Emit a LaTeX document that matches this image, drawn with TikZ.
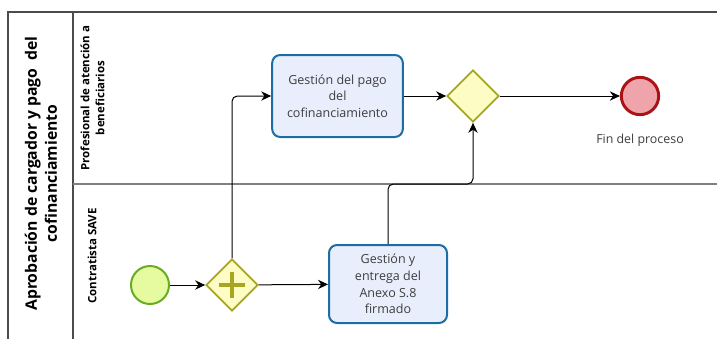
\documentclass[tikz,border=0pt]{standalone}
\usepackage{fontspec}
\setmainfont{Open Sans}
\usetikzlibrary{shapes.geometric,arrows.meta}

\definecolor{startfill}{RGB}{230,251,160}
\definecolor{startline}{RGB}{104,172,36}
\definecolor{gatefill}{RGB}{252,252,196}
\definecolor{gateline}{RGB}{166,166,34}
\definecolor{taskfill}{RGB}{232,238,252}
\definecolor{taskline}{RGB}{28,110,162}
\definecolor{endfill}{RGB}{238,164,170}
\definecolor{endline}{RGB}{170,18,22}
\definecolor{txt}{RGB}{62,62,62}

\begin{document}
\begin{tikzpicture}[x=0.75pt,y=-0.75pt,->,>={Stealth[length=7.5pt,width=7pt]},line width=0.75pt,
  pool line/.style={-,draw=black!70,line width=1.1pt},
  lane line/.style={-,draw=black!50,line width=1.1pt},
  task node/.style={rectangle,rounded corners=6pt,draw=taskline,fill=taskfill,line width=1.5pt,
    align=center,text=txt,font=\fontsize{9.4}{12.5}\selectfont,inner sep=0pt},
  gate node/.style={diamond,aspect=1,draw=gateline,fill=gatefill,line width=1.3pt,
    minimum width=39pt,minimum height=39pt,inner sep=0pt},
  start node/.style={circle,draw=startline,fill=startfill,line width=1.5pt,minimum size=28.5pt,inner sep=0pt},
  end node/.style={circle,draw=endline,fill=endfill,line width=2.2pt,minimum size=28pt,inner sep=0pt}]

  \useasboundingbox (0,0) rectangle (717,339);

  % pool and lanes
  \draw[pool line] (717,12) -- (8,12) -- (8,339);
  \draw[pool line] (73,12) -- (73,339);
  \draw[lane line] (73,184) -- (717,184);
  \coordinate (split) at (73,184);

  \node[rotate=90,align=center,font=\fontsize{11.8}{15}\selectfont\bfseries] (pool) at (41,173.5)
    {Aprobación de cargador y pago\ \ del\\cofinanciamiento};
  \node[rotate=90,align=center,font=\fontsize{8.6}{11.2}\selectfont\bfseries] (lane1) at (92.5,98)
    {Profesional de atención a\\beneficiarios};
  \node[rotate=90,align=center,font=\fontsize{8.6}{11.2}\selectfont\bfseries] (lane2) at (92,256)
    {Contratista SAVE};

  % flow objects
  \node[start node] (start) at (150,285) {};
  \node[gate node]  (pg)    at (232,285) {};
  \node[task node,minimum width=88.5pt,minimum height=58.5pt] (t2) at (388,284)
    {Gestión y\\entrega del\\Anexo S.8\\firmado};
  \node[task node,minimum width=98pt,minimum height=61.5pt] (t1) at (337.5,96)
    {Gestión del pago\\del\\cofinanciamiento};
  \node[gate node]  (xg)    at (473,96) {};
  \node[end node]   (fin)   at (640,96) {};
  \node[text=txt,font=\fontsize{9.3}{11}\selectfont] (finlbl) at (640,140) {Fin del proceso};

  % parallel marker
  \draw[-,gateline,line width=3.7pt] ([xshift=-9.4pt]pg.center) -- ([xshift=9.4pt]pg.center);
  \draw[-,gateline,line width=3.7pt] ([yshift=-9.4pt]pg.center) -- ([yshift=9.4pt]pg.center);

  % sequence flows
  \path
    (start) edge (pg)
    (pg)    edge (t2)
    (t1)    edge (xg)
    (xg)    edge (fin);
  \draw[rounded corners=4pt] (pg.north) |- (t1.west);
  \draw[rounded corners=4pt] (t2.north) |- (xg.south |- split) -- (xg.south);
\end{tikzpicture}
\end{document}
